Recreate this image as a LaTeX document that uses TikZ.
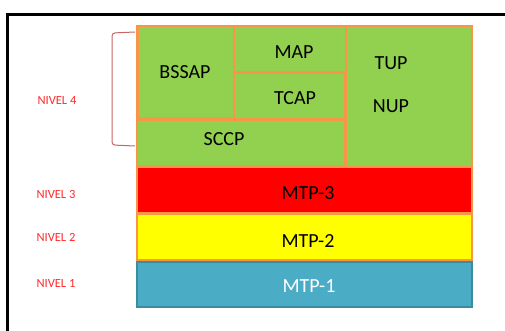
\documentclass[tikz,border=0pt]{standalone}
\usepackage{fontspec}
\setmainfont{Carlito}
\definecolor{verde}{HTML}{92D050}
\definecolor{rojo}{HTML}{FF0000}
\definecolor{amarillo}{HTML}{FFFF00}
\definecolor{azul}{HTML}{4BACC6}
\definecolor{azulborde}{HTML}{3C8CA0}
\definecolor{naranja}{HTML}{F79646}
\definecolor{llave}{HTML}{C86464}
\definecolor{nivelrojo}{HTML}{FF2A2A}
\tikzset{
  capa/.style={draw=naranja,line width=2pt},
  texto/.style={font=\fontsize{20}{24}\selectfont,inner sep=0pt},
  nivel/.style={font=\fontsize{12.5}{15}\selectfont,text=nivelrojo,inner sep=0pt}
}

\begin{document}
\begin{tikzpicture}[x=1pt,y=-1pt]
   \useasboundingbox (0,0) rectangle (505,331);
   % marco
   \draw[line width=3pt] (7.7,331)--(7.7,14.7)--(505,14.7);

   % nivel 4
   \draw[capa,fill=verde](137,26) rectangle (472,167);
   \draw[capa](138,26) rectangle (234,118);
   \draw[capa](234,26) rectangle (346,72);
   \draw[capa](234,73) rectangle (345,119);
   \draw[capa](137,120) rectangle (345,166);
   \draw[capa](346,26) rectangle (472,167);
   \node[texto] (bssap) at (185,72) {BSSAP};
   \node[texto] (map) at (294,52) {MAP};
   \node[texto] (tcap) at (295,98) {TCAP};
   \node[texto] (sccp) at (224,139) {SCCP};
   \node[texto] (tup) at (391,63) {TUP};
   \node[texto] (nup) at (391,106) {NUP};

   % nivel 3
   \draw[capa,fill=rojo](137,167) rectangle (472,213);
   \node[texto] (mtp3) at (308,193) {MTP-3};

   % nivel 2
   \draw[capa,fill=amarillo](137,214) rectangle (472,260);
   \node[texto] (mtp2) at (308,241) {MTP-2};

   % nivel 1
   \draw[draw=azulborde,line width=1.5pt,fill=azul](137,262) rectangle (472,307);
   \node[texto,text=white] (mtp1) at (309,286) {MTP-1};

   % llave
   \draw[llave,line width=1pt,rounded corners=3pt] (135,32)--(112,33)--(112,145)--(135,146);

   \node[nivel] (n4) at (57,100) {NIVEL 4};
   \node[nivel] (n3) at (56,194) {NIVEL 3};
   \node[nivel] (n2) at (56,237) {NIVEL 2};
   \node[nivel] (n1) at (56,283) {NIVEL 1};
\end{tikzpicture}
\end{document}
